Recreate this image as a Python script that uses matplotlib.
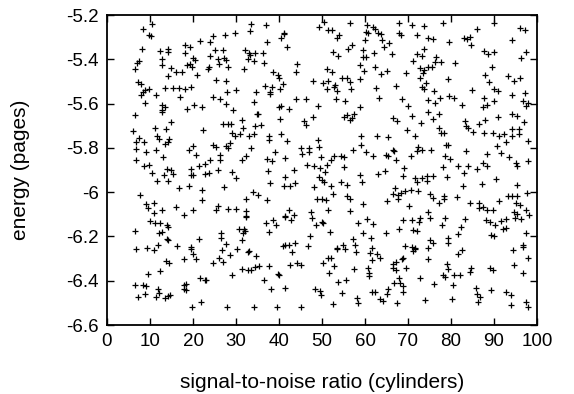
import matplotlib
matplotlib.use("Agg")
import matplotlib.pyplot as plt
from matplotlib.ticker import FormatStrFormatter

# (signal-to-noise ratio, energy) readings, grouped by band of the plot
band_top = [
(10.5,-5.240),(8.45,-5.262),(9.84,-5.290),(10.15,-5.295),(8.06,-5.352),(12.4,-5.363),(14.26,-5.352),(14.26,-5.369),(18.2,-5.334),(19.3,-5.343),(21.55,-5.319),(18.1,-5.373),(12.8,-5.397),(19.9,-5.396),(20.4,-5.403),(7.44,-5.408),(7.0,-5.415),(6.5,-5.442),(12.7,-5.426),(14.9,-5.441),(16.1,-5.457),(17.4,-5.457),(18.5,-5.427),(19.3,-5.421),(19.7,-5.437),(14.3,-5.475),(20.9,-5.471),(7.3,-5.503),(7.8,-5.512),(8.3,-5.546),(8.8,-5.539),(9.8,-5.533),(8.0,-5.563),(11.3,-5.560),(13.6,-5.528),(15.3,-5.528),(16.7,-5.528),(18.2,-5.533),(19.5,-5.527),(17.0,-5.572),(8.8,-5.599),(12.9,-5.606),(13.6,-5.614),(12.8,-5.629),(12.7,-5.637),(18.7,-5.623),(20.2,-5.605),(22.2,-5.617),
(33.6,-5.241),(37.05,-5.244),(33.3,-5.274),(41.2,-5.280),(41.1,-5.287),(40.5,-5.304),(37.2,-5.320),(41.8,-5.344),(24.65,-5.293),(23.9,-5.322),(27.5,-5.290),(29.7,-5.283),(25.2,-5.360),(27.05,-5.360),(24.0,-5.384),(25.8,-5.397),(27.2,-5.393),(27.7,-5.403),(26.1,-5.421),(28.1,-5.433),(23.4,-5.442),(23.7,-5.436),(32.2,-5.358),(33.0,-5.373),(33.25,-5.382),(34.4,-5.373),(36.3,-5.373),(32.8,-5.400),(34.3,-5.406),(36.4,-5.418),(31.9,-5.444),(38.7,-5.459),(39.85,-5.471),(40.1,-5.483),(44.1,-5.421),(43.95,-5.458),(25.4,-5.495),(27.6,-5.498),(41.0,-5.510),(36.7,-5.521),(38.3,-5.527),(40.3,-5.533),(38.0,-5.546),(38.0,-5.557),(34.65,-5.548),(30.0,-5.540),(27.8,-5.548),(24.65,-5.572),(26.2,-5.581),(27.7,-5.600),(34.2,-5.591),(44.0,-5.581),(46.3,-5.581),(29.2,-5.629),(40.0,-5.617),(40.5,-5.612),(42.3,-5.626),
(50.5,-5.233),(49.4,-5.256),(51.5,-5.268),(52.4,-5.268),(54.0,-5.289),(53.4,-5.304),(56.6,-5.238),(60.4,-5.245),(61.9,-5.256),(62.3,-5.265),(60.2,-5.277),(60.8,-5.280),(63.1,-5.280),(63.7,-5.286),(63.9,-5.313),(64.5,-5.343),(65.6,-5.328),(68.0,-5.238),(70.85,-5.247),(68.0,-5.283),(68.3,-5.289),(59.9,-5.313),(57.0,-5.337),(56.0,-5.355),(52.5,-5.369),(53.8,-5.385),(59.6,-5.360),(59.5,-5.388),(60.2,-5.388),(62.2,-5.370),(66.2,-5.376),(71.1,-5.408),(58.8,-5.424),(59.8,-5.453),(62.4,-5.436),(63.8,-5.468),(65.0,-5.453),(69.5,-5.463),(51.1,-5.442),(52.3,-5.457),(47.8,-5.497),(50.2,-5.509),(51.5,-5.498),(51.1,-5.533),(52.9,-5.524),(53.1,-5.516),(53.5,-5.545),(54.65,-5.486),(55.9,-5.483),(56.4,-5.501),(56.8,-5.536),(58.9,-5.489),(62.6,-5.531),(67.3,-5.519),(53.3,-5.581),(55.35,-5.588),(63.2,-5.575),(68.5,-5.578),(49.1,-5.609),(58.9,-5.614),(69.9,-5.611),
(78.2,-5.235),(90.1,-5.235),(73.8,-5.250),(72.2,-5.290),(74.7,-5.304),(75.8,-5.310),(79.5,-5.320),(83.0,-5.305),(83.8,-5.310),(84.4,-5.298),(86.05,-5.265),(84.65,-5.335),(96.0,-5.257),(97.1,-5.268),(94.1,-5.313),(73.8,-5.355),(72.2,-5.378),(73.3,-5.385),(76.5,-5.388),(76.3,-5.411),(77.7,-5.412),(81.0,-5.418),(87.6,-5.361),(88.5,-5.378),(90.1,-5.366),(89.6,-5.433),(97.5,-5.366),(96.2,-5.394),(72.8,-5.441),(73.7,-5.448),(74.6,-5.433),(75.5,-5.436),(73.6,-5.460),(72.8,-5.486),(79.4,-5.488),(87.9,-5.473),(88.8,-5.501),(93.3,-5.476),(94.6,-5.498),(96.05,-5.486),(74.3,-5.509),(73.3,-5.524),(73.8,-5.536),(76.05,-5.542),(84.8,-5.539),(90.0,-5.534),(91.0,-5.542),(97.2,-5.551),(94.1,-5.563),(74.7,-5.584),(76.3,-5.596),(77.5,-5.575),(79.5,-5.566),(80.8,-5.575),(82.6,-5.608),(87.75,-5.576),(90.1,-5.587),(88.45,-5.606),(87.5,-5.617),(96.8,-5.587),(97.8,-5.599),(97.4,-5.610),(74.7,-5.637),
]

band_mid = [
(6.5,-5.650),(14.9,-5.683),(6.1,-5.724),(11.2,-5.712),(13.8,-5.713),(11.7,-5.748),(12.0,-5.759),(14.5,-5.759),(14.2,-5.772),(13.6,-5.781),(7.5,-5.757),(6.7,-5.772),(8.7,-5.774),(22.4,-5.721),(6.7,-5.804),(9.1,-5.820),(11.4,-5.811),(13.1,-5.840),(6.8,-5.855),(8.6,-5.880),(9.7,-5.879),(19.0,-5.808),(20.1,-5.790),(20.6,-5.832),(13.9,-5.894),(14.8,-5.898),(10.4,-5.914),(13.3,-5.921),(15.3,-5.920),(19.5,-5.896),(19.5,-5.924),(20.0,-5.923),(21.3,-5.884),(11.7,-5.950),(14.1,-5.948),(16.7,-5.980),(19.0,-5.972),(22.2,-5.990),(22.0,-6.036),(7.6,-6.014),(9.1,-6.052),(11.0,-6.049),(9.5,-6.072),(11.0,-6.094),(12.9,-6.079),(16.1,-6.069),(17.8,-6.102),(20.1,-6.079),
(34.8,-5.646),(35.2,-5.647),(40.2,-5.668),(45.7,-5.680),(46.3,-5.695),(31.3,-5.676),(27.05,-5.691),(28.1,-5.691),(28.8,-5.691),(31.7,-5.712),(34.5,-5.703),(35.7,-5.698),(29.1,-5.733),(29.8,-5.745),(30.9,-5.736),(33.1,-5.745),(34.3,-5.739),(37.75,-5.745),(37.75,-5.766),(40.4,-5.737),(41.9,-5.768),(24.7,-5.787),(25.3,-5.796),(27.7,-5.790),(28.1,-5.799),(28.6,-5.778),(33.5,-5.801),(26.3,-5.832),(26.3,-5.853),(23.9,-5.856),(22.9,-5.871),(31.3,-5.853),(32.3,-5.838),(37.1,-5.850),(38.3,-5.858),(39.0,-5.819),(41.5,-5.846),(45.0,-5.799),(46.9,-5.802),(45.3,-5.829),(47.0,-5.820),(46.6,-5.879),(23.7,-5.915),(22.9,-5.918),(25.7,-5.902),(29.0,-5.911),(29.9,-5.938),(37.5,-5.905),(41.3,-5.933),(43.6,-5.898),(37.9,-5.959),(41.2,-5.971),(42.6,-5.971),(43.8,-5.959),(27.3,-5.978),(33.9,-6.001),(35.2,-6.011),(32.3,-6.031),(37.1,-6.037),(25.7,-6.064),(25.35,-6.079),(28.2,-6.076),(30.1,-6.078),(32.3,-6.087),(32.3,-6.106),(42.4,-6.082),(41.4,-6.106),(43.5,-6.102),(47.4,-6.090),
(48.0,-5.662),(55.2,-5.661),(55.7,-5.650),(56.4,-5.676),(56.9,-5.665),(57.4,-5.646),(66.4,-5.665),(67.5,-5.680),(71.0,-5.658),(69.8,-5.718),(49.0,-5.766),(49.4,-5.796),(59.1,-5.745),(59.1,-5.787),(62.7,-5.748),(65.3,-5.753),(57.3,-5.811),(60.2,-5.820),(61.9,-5.835),(64.9,-5.831),(65.4,-5.838),(66.4,-5.808),(66.8,-5.816),(67.2,-5.853),(70.6,-5.835),(49.8,-5.843),(51.1,-5.876),(52.0,-5.856),(52.9,-5.835),(54.4,-5.835),(55.2,-5.843),(48.2,-5.883),(49.5,-5.893),(50.8,-5.911),(55.0,-5.888),(49.2,-5.933),(50.1,-5.944),(50.4,-5.953),(48.2,-5.975),(52.0,-5.972),(54.5,-5.954),(55.7,-5.968),(58.9,-5.921),(59.4,-5.953),(63.0,-5.920),(64.6,-5.906),(69.1,-5.891),(68.8,-5.929),(52.6,-6.009),(48.9,-6.033),(50.1,-6.031),(50.9,-6.034),(55.8,-6.019),(56.5,-6.031),(59.6,-6.052),(65.2,-6.042),(67.05,-5.981),(66.6,-6.007),(67.7,-6.011),(68.4,-6.004),(69.2,-5.996),(70.6,-5.992),(67.7,-6.031),(70.3,-6.061),(51.5,-6.082),(56.4,-6.087),
(75.9,-5.670),(77.2,-5.649),(73.0,-5.688),(71.6,-5.748),(77.1,-5.710),(77.7,-5.733),(78.3,-5.733),(83.3,-5.680),(83.5,-5.703),(83.9,-5.710),(86.4,-5.692),(87.8,-5.676),(90.9,-5.662),(94.3,-5.647),(95.3,-5.655),(97.0,-5.685),(85.2,-5.728),(87.7,-5.733),(89.85,-5.733),(91.2,-5.748),(92.4,-5.737),(94.1,-5.715),(94.1,-5.745),(95.7,-5.715),(95.8,-5.736),(92.8,-5.775),(97.8,-5.771),(72.4,-5.798),(73.2,-5.808),(72.0,-5.813),(75.3,-5.808),(78.8,-5.787),(79.2,-5.789),(78.6,-5.835),(79.8,-5.850),(83.4,-5.816),(88.3,-5.828),(90.8,-5.790),(91.6,-5.823),(93.6,-5.841),(95.0,-5.868),(95.3,-5.883),(98.0,-5.858),(78.2,-5.886),(81.7,-5.880),(84.0,-5.880),(86.0,-5.894),(87.5,-5.868),(88.4,-5.880),(83.1,-5.914),(71.6,-5.936),(72.0,-5.956),(73.3,-5.936),(74.5,-5.926),(74.5,-5.951),(75.7,-5.929),(79.1,-5.932),(82.7,-5.974),(87.3,-5.962),(90.5,-5.941),(95.4,-5.968),(72.4,-5.996),(75.0,-6.007),(75.9,-6.027),(78.4,-6.016),(78.4,-6.031),(77.3,-6.049),(81.5,-6.024),(84.4,-6.049),(86.4,-6.049),(86.6,-6.072),(87.5,-6.067),(88.3,-6.079),(89.85,-6.082),(91.2,-6.042),(93.2,-6.016),(94.3,-6.016),(95.3,-6.016),(97.6,-6.004),(95.1,-6.049),(96.05,-6.057),(97.4,-6.079),(94.7,-6.090),(95.3,-6.099),(98.2,-6.103),(74.7,-6.091),
]

band_bottom = [
(10.0,-6.131),(11.2,-6.138),(12.3,-6.141),(13.9,-6.150),(14.3,-6.156),(6.4,-6.174),(12.2,-6.183),(12.8,-6.180),(13.9,-6.210),(14.1,-6.216),(21.5,-6.210),(6.7,-6.258),(9.4,-6.254),(11.0,-6.261),(11.9,-6.240),(16.2,-6.243),(19.5,-6.246),(19.5,-6.255),(20.1,-6.281),(20.7,-6.304),(17.8,-6.304),(13.7,-6.311),(14.5,-6.319),(12.4,-6.356),(9.5,-6.371),(6.5,-6.418),(8.3,-6.420),(9.0,-6.424),(11.9,-6.439),(12.0,-6.454),(17.8,-6.421),(18.4,-6.417),(17.8,-6.436),(18.4,-6.442),(21.6,-6.389),(22.9,-6.397),(7.3,-6.472),(8.8,-6.462),(11.3,-6.474),(13.6,-6.477),(14.3,-6.469),(14.6,-6.463),(19.8,-6.517),(21.9,-6.496),
(32.4,-6.111),(37.0,-6.141),(38.5,-6.126),(39.3,-6.149),(41.5,-6.112),(42.8,-6.127),(26.5,-6.186),(26.4,-6.207),(30.8,-6.168),(31.9,-6.165),(32.1,-6.176),(31.7,-6.186),(37.75,-6.179),(31.3,-6.218),(27.6,-6.236),(26.7,-6.261),(30.2,-6.258),(32.7,-6.269),(33.1,-6.266),(40.85,-6.243),(41.4,-6.240),(42.3,-6.240),(43.7,-6.228),(43.1,-6.271),(46.8,-6.243),(47.3,-6.198),(26.1,-6.296),(28.6,-6.286),(27.05,-6.316),(24.7,-6.322),(34.65,-6.289),(31.5,-6.349),(32.9,-6.352),(33.5,-6.353),(34.4,-6.337),(35.35,-6.334),(37.7,-6.334),(42.6,-6.331),(44.3,-6.322),(45.0,-6.331),(39.85,-6.368),(40.1,-6.376),(29.0,-6.374),(23.0,-6.397),(36.4,-6.398),(38.1,-6.436),(41.4,-6.432),(27.8,-6.519),(34.3,-6.519),(39.5,-6.519),(45.0,-6.519),
(47.6,-6.115),(48.6,-6.150),(49.9,-6.135),(50.2,-6.141),(58.45,-6.138),(60.5,-6.123),(61.9,-6.146),(68.8,-6.127),(71.0,-6.127),(72.6,-6.134),(68.0,-6.168),(71.2,-6.173),(51.9,-6.180),(59.6,-6.186),(61.3,-6.209),(64.8,-6.186),(57.1,-6.213),(57.7,-6.237),(53.4,-6.254),(53.6,-6.258),(54.95,-6.237),(55.35,-6.255),(58.0,-6.269),(61.55,-6.251),(61.2,-6.277),(62.9,-6.278),(63.5,-6.299),(61.7,-6.307),(69.3,-6.243),(70.85,-6.246),(71.1,-6.266),(71.6,-6.255),(68.8,-6.296),(68.5,-6.304),(51.5,-6.296),(52.0,-6.296),(50.3,-6.319),(52.9,-6.334),(57.4,-6.346),(60.8,-6.341),(61.0,-6.364),(61.0,-6.379),(66.4,-6.323),(67.2,-6.314),(66.6,-6.341),(67.2,-6.352),(69.5,-6.344),(51.6,-6.364),(68.0,-6.386),(68.1,-6.409),(68.8,-6.424),(68.9,-6.450),(66.7,-6.409),(53.8,-6.404),(55.6,-6.398),(48.3,-6.439),(49.6,-6.447),(49.7,-6.466),(54.6,-6.457),(61.7,-6.450),(62.3,-6.450),(65.4,-6.436),(65.2,-6.459),(58.1,-6.477),(58.3,-6.499),(63.5,-6.481),(64.3,-6.492),(67.5,-6.499),(52.5,-6.507),
(72.8,-6.115),(75.1,-6.115),(78.6,-6.115),(83.3,-6.120),(78.0,-6.150),(72.2,-6.176),(88.1,-6.126),(89.1,-6.133),(90.2,-6.150),(91.6,-6.130),(92.9,-6.123),(94.9,-6.115),(96.3,-6.123),(92.0,-6.165),(92.7,-6.164),(82.3,-6.156),(81.7,-6.191),(97.4,-6.186),(89.3,-6.195),(90.1,-6.198),(79.2,-6.206),(79.2,-6.228),(75.1,-6.218),(75.9,-6.228),(71.6,-6.254),(74.6,-6.254),(81.7,-6.281),(82.5,-6.263),(94.5,-6.263),(96.8,-6.240),(96.8,-6.248),(74.7,-6.301),(98.0,-6.299),(79.0,-6.326),(79.4,-6.349),(84.65,-6.341),(84.4,-6.361),(89.1,-6.341),(89.85,-6.352),(94.7,-6.329),(96.8,-6.364),(78.2,-6.376),(78.6,-6.382),(80.8,-6.374),(82.1,-6.373),(72.7,-6.389),(76.05,-6.417),(80.5,-6.420),(85.8,-6.435),(86.0,-6.462),(86.75,-6.472),(86.2,-6.495),(89.3,-6.444),(92.7,-6.450),(93.9,-6.466),(73.9,-6.489),(80.2,-6.484),(93.9,-6.511),(97.4,-6.495),(97.8,-6.517),
]

x_ticks = [0, 10, 20, 30, 40, 50, 60, 70, 80, 90, 100]
y_ticks = [-6.6, -6.4, -6.2, -6.0, -5.8, -5.6, -5.4, -5.2]
x_label = "signal-to-noise ratio (cylinders)"
y_label = "energy (pages)"

plt.rcParams['font.family'] = ['Liberation Sans', 'DejaVu Sans']

fig = plt.figure(figsize=(5.74, 3.94), dpi=100)
ax = fig.add_axes([107/574, 1 - 325/394, 430/574, 310/394])

pts = band_top + band_mid + band_bottom
snr = [p[0] for p in pts]
energy = [p[1] for p in pts]
ax.scatter(snr, energy, marker='+', s=22, c='black', linewidths=0.9)

ax.set_xlim(0, 100)
ax.set_ylim(-6.6, -5.2)
ax.set_xticks(x_ticks)
ax.set_yticks(y_ticks)
ax.yaxis.set_major_formatter(FormatStrFormatter('%g'))
ax.tick_params(direction='in', top=True, right=True, length=5, width=1,
               labelsize=13.5, pad=6)
for s in ax.spines.values():
    s.set_linewidth(1.3)
ax.set_xlabel(x_label, fontsize=15, labelpad=16)
ax.set_ylabel(y_label, fontsize=15, labelpad=26)

fig.savefig("out.png", dpi=100)
